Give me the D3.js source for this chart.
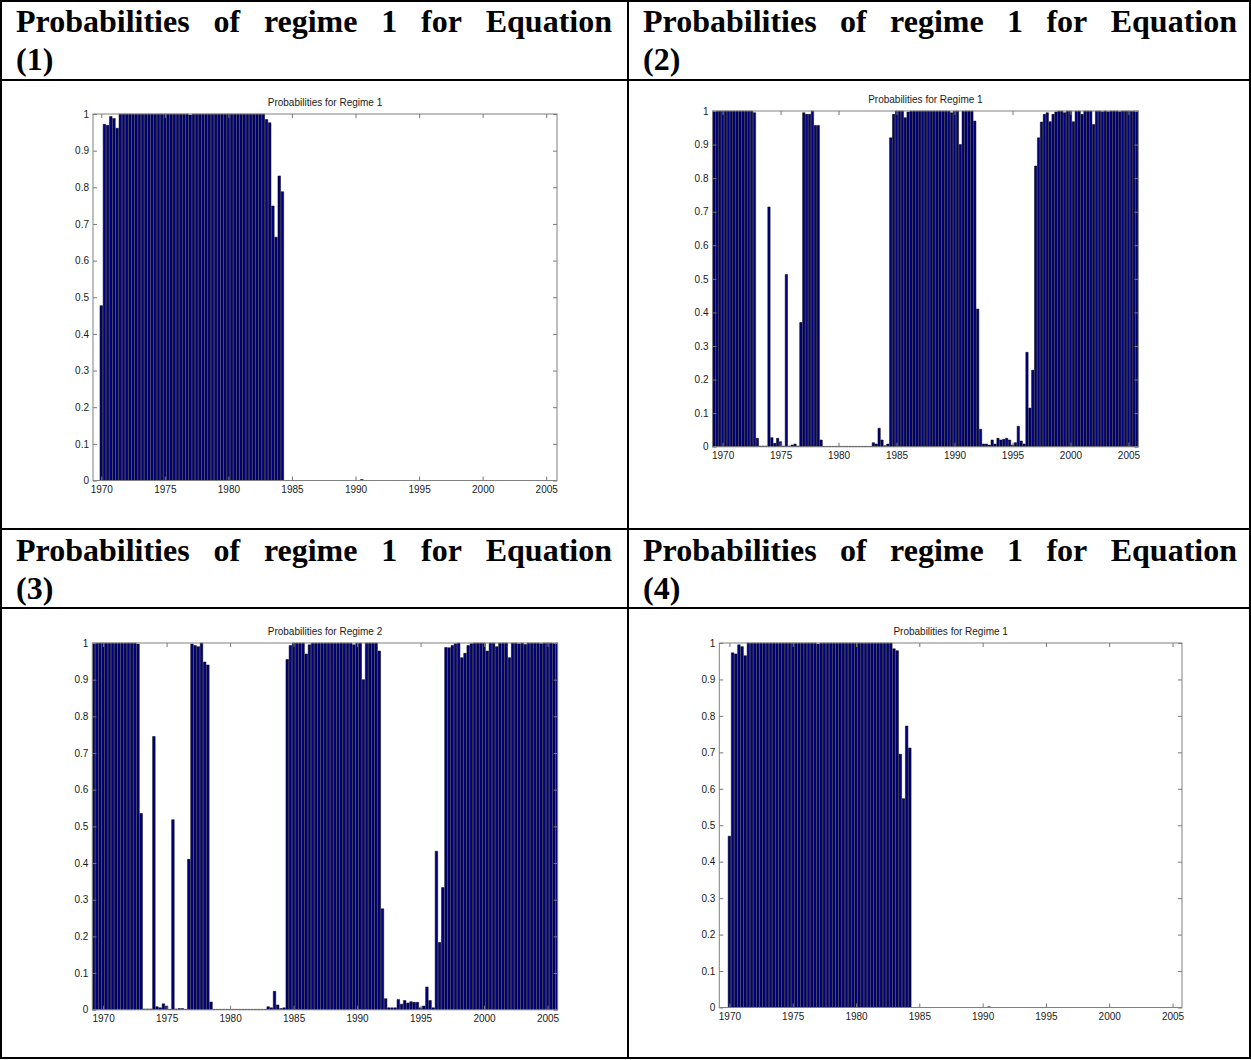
<!DOCTYPE html>
<html>
<head>
<meta charset="utf-8">
<script src="https://cdn.jsdelivr.net/npm/d3@7/dist/d3.min.js"></script>
<style>
  body { margin: 0; background: #fff; }
  svg { display: block; }
</style>
</head>
<body>
<svg id="page" width="1251" height="1060"></svg>
<script>
// quarterly dates, 1969Q2 .. 2005Q4
const startYear = 1969.25
const quarters = d3.range(147).map(i => startYear + i / 4)

const yTicks = [0, 0.1, 0.2, 0.3, 0.4, 0.5, 0.6, 0.7, 0.8, 0.9, 1]
const xTicks = [1970, 1975, 1980, 1985, 1990, 1995, 2000, 2005]

const headings = [
  "Probabilities of regime 1 for Equation (1)",
  "Probabilities of regime 1 for Equation (2)",
  "Probabilities of regime 1 for Equation (3)",
  "Probabilities of regime 1 for Equation (4)"
]
const titles = [
  "Probabilities for Regime 1",
  "Probabilities for Regime 1",
  "Probabilities for Regime 2",
  "Probabilities for Regime 1"
]

// one row per year (1969 has three quarters)
const eq1 = [
  0, 0, 0,
  0.477, 0.972, 0.969, 0.993,
  0.988, 0.961, 1, 1,
  1, 1, 1, 1,
  1, 1, 1, 1,
  1, 1, 1, 1,
  1, 1, 1, 1,
  1, 1, 1, 1,
  0.997, 1, 1, 1,
  1, 1, 1, 1,
  1, 1, 1, 1,
  1, 1, 1, 1,
  1, 1, 1, 1,
  1, 1, 1, 1,
  0.985, 0.976, 0.749, 0.664,
  0.831, 0.788, 0, 0,
  0, 0, 0, 0,
  0, 0, 0, 0,
  0, 0, 0, 0,
  0, 0, 0, 0,
  0, 0, 0, 0,
  0, 0, 0.003, 0,
  0, 0, 0, 0,
  0, 0, 0, 0,
  0, 0, 0, 0,
  0, 0, 0, 0,
  0, 0, 0, 0,
  0, 0, 0, 0,
  0, 0, 0, 0,
  0, 0, 0, 0,
  0, 0, 0, 0,
  0, 0, 0, 0,
  0, 0, 0, 0,
  0, 0, 0, 0,
  0, 0, 0, 0,
  0, 0, 0, 0,
  0, 0, 0, 0
]

const eq2 = [
  1, 1, 1,
  1, 1, 1, 1,
  1, 1, 1, 1,
  1, 1, 1, 0.995,
  0.025, 0.002, 0.002, 0.002,
  0.714, 0.027, 0.01, 0.025,
  0.015, 0.002, 0.513, 0.002,
  0.005, 0.008, 0.002, 0.37,
  0.995, 0.99, 0.99, 1,
  0.957, 0.957, 0.02, 0.001,
  0.001, 0.001, 0.001, 0.001,
  0.001, 0.001, 0.001, 0.001,
  0.001, 0.001, 0.001, 0.001,
  0.001, 0.001, 0.001, 0.001,
  0.012, 0.008, 0.055, 0.02,
  0.003, 0.008, 0.92, 0.99,
  1, 1, 1, 0.98,
  0.997, 1, 1, 1,
  1, 1, 1, 1,
  1, 1, 1, 1,
  1, 1, 1, 0.995,
  1, 1, 0.9, 1,
  1, 1, 1, 0.97,
  0.41, 0.052, 0.008, 0.008,
  0.005, 0.02, 0.008, 0.025,
  0.02, 0.022, 0.025, 0.02,
  0.005, 0.012, 0.061, 0.017,
  0.008, 0.281, 0.115, 0.228,
  0.836, 0.92, 0.967, 0.99,
  0.995, 0.968, 0.99, 0.997,
  1, 1, 0.995, 1,
  1, 0.968, 1, 1,
  0.99, 1, 1, 1,
  0.96, 1, 1, 0.998,
  1, 0.998, 1, 1,
  1, 0.998, 1, 1,
  1, 0.999, 1, 1
]

const eq3 = [
  1, 1, 1,
  1, 1, 1, 1,
  1, 1, 1, 1,
  1, 1, 1, 0.997,
  0.535, 0.002, 0.002, 0.002,
  0.745, 0.008, 0.005, 0.016,
  0.01, 0.001, 0.518, 0.002,
  0.003, 0.003, 0.001, 0.41,
  0.997, 0.993, 0.99, 1,
  0.948, 0.94, 0.021, 0.001,
  0.001, 0.001, 0.001, 0.001,
  0.001, 0.001, 0.001, 0.001,
  0.001, 0.001, 0.001, 0.001,
  0.001, 0.001, 0.001, 0.001,
  0.008, 0.005, 0.05, 0.013,
  0.003, 0.005, 0.955, 0.993,
  1, 1, 1, 1,
  0.97, 0.995, 1, 1,
  1, 1, 1, 1,
  1, 1, 1, 1,
  1, 1, 1, 0.995,
  1, 1, 0.9, 1,
  1, 1, 1, 0.978,
  0.275, 0.03, 0.005, 0.005,
  0.005, 0.028, 0.015, 0.025,
  0.018, 0.022, 0.02, 0.02,
  0.005, 0.01, 0.062, 0.025,
  0.005, 0.432, 0.183, 0.333,
  0.988, 0.987, 0.993, 0.998,
  1, 0.96, 0.972, 0.993,
  0.998, 1, 1, 1,
  1, 0.978, 1, 1,
  0.99, 1, 1, 1,
  0.96, 1, 1, 0.998,
  1, 0.996, 1, 1,
  1, 1, 0.998, 1,
  1, 1, 0.999, 1
]

const eq4 = [
  0, 0, 0,
  0.47, 0.973, 0.97, 0.995,
  0.99, 0.965, 1, 1,
  1, 1, 1, 1,
  1, 1, 1, 1,
  1, 1, 1, 1,
  1, 1, 1, 1,
  1, 1, 1, 1,
  0.997, 1, 1, 1,
  1, 1, 1, 1,
  1, 1, 1, 1,
  1, 1, 1, 1,
  1, 1, 1, 1,
  1, 1, 1, 1,
  0.984, 0.979, 0.695, 0.573,
  0.772, 0.712, 0, 0,
  0, 0, 0, 0,
  0, 0, 0, 0,
  0, 0, 0, 0,
  0, 0, 0, 0,
  0, 0, 0, 0,
  0, 0, 0.002, 0,
  0, 0, 0, 0,
  0, 0, 0, 0,
  0, 0, 0, 0,
  0, 0, 0, 0,
  0, 0, 0, 0,
  0, 0, 0, 0,
  0, 0, 0, 0,
  0, 0, 0, 0,
  0, 0, 0, 0,
  0, 0, 0, 0,
  0, 0, 0, 0,
  0, 0, 0, 0,
  0, 0, 0, 0,
  0, 0, 0, 0,
  0, 0, 0, 0
]

const series = [eq1, eq2, eq3, eq4]

// layout of the four cells
const cells = [
  { left: 16, right: 612, base1: 32, base2: 70 },
  { left: 643, right: 1237, base1: 32, base2: 70 },
  { left: 16, right: 612, base1: 561, base2: 599 },
  { left: 643, right: 1237, base1: 561, base2: 599 }
]
const plots = [
  { x0: 93, x1: 557, y0: 114, y1: 480.5, xlim: [1969.35, 2005.85] },
  { x0: 712.5, x1: 1138.3, y0: 111, y1: 446.7, xlim: [1969.13, 2005.85] },
  { x0: 92.3, x1: 557.7, y0: 643, y1: 1009.7, xlim: [1969.15, 2005.8] },
  { x0: 719.3, x1: 1182, y0: 643, y1: 1007.5, xlim: [1969.2, 2005.75] }
]

const svg = d3.select("#page")

// table grid
const grid = svg.append("g").attr("stroke", "#000").attr("stroke-width", 2).attr("fill", "none")
grid.append("rect").attr("x", 1).attr("y", 1).attr("width", 1249).attr("height", 1057)
grid.append("line").attr("x1", 628).attr("x2", 628).attr("y1", 0).attr("y2", 1059)
;[80, 529, 608].forEach(yy => {
  grid.append("line").attr("x1", 0).attr("x2", 1251).attr("y1", yy).attr("y2", yy)
})

// headings, first line justified across the cell
function justify(g, words, xL, xR, y) {
  const t = words.map(w => g.append("text").attr("y", y).text(w))
  const widths = t.map(s => s.node().getComputedTextLength())
  const gap = (xR - xL - d3.sum(widths)) / (words.length - 1)
  let cx = xL
  t.forEach((s, i) => { s.attr("x", cx); cx += widths[i] + gap })
}

cells.forEach((c, k) => {
  const g = svg.append("g")
    .attr("font-family", "'Liberation Serif', 'Times New Roman', serif")
    .attr("font-weight", "bold")
    .attr("font-size", "32px")
    .attr("fill", "#000")
  const words = headings[k].split(" ")
  const last = words.pop()
  justify(g, words, c.left, c.right, c.base1)
  g.append("text").attr("x", c.left).attr("y", c.base2).text(last)
})

// bar charts
plots.forEach((p, k) => {
  const g = svg.append("g")

  const x = d3.scaleLinear().domain(p.xlim).range([p.x0, p.x1])
  const y = d3.scaleLinear().domain([0, 1]).range([p.y1, p.y0])
  const bw = (x(startYear + 0.25) - x(startYear)) * 0.8

  g.append("clipPath").attr("id", "clip" + k)
    .append("rect")
    .attr("x", p.x0).attr("y", p.y0 - 1)
    .attr("width", p.x1 - p.x0).attr("height", p.y1 - p.y0 + 2)

  g.append("g")
    .attr("clip-path", `url(#clip${k})`)
    .selectAll("path")
    .data(series[k])
    .join("path")
      .attr("d", (d, i) => {
        const xl = x(quarters[i]) - bw / 2
        return `M${xl},${y(0)}V${y(d)}H${xl + bw}V${y(0)}Z`
      })
      .attr("fill", "#000080")
      .attr("stroke", "#000")
      .attr("stroke-width", 0.5)

  const fmt = d3.format("~g")
  const styleAxis = sel => {
    sel.select(".domain").remove()
    sel.selectAll(".tick line").attr("stroke", "#777")
    sel.selectAll(".tick text").attr("fill", "#1a1a1a")
  }

  g.append("g").attr("transform", `translate(${p.x0},0)`)
    .call(d3.axisLeft(y).tickValues(yTicks).tickFormat(fmt).tickSize(-4).tickPadding(4))
    .call(styleAxis)
  g.append("g").attr("transform", `translate(${p.x1},0)`)
    .call(d3.axisRight(y).tickValues(yTicks).tickFormat("").tickSize(-4))
    .call(styleAxis)
  g.append("g").attr("transform", `translate(0,${p.y1})`)
    .call(d3.axisBottom(x).tickValues(xTicks).tickFormat(d3.format("d")).tickSize(-4).tickPadding(5))
    .call(styleAxis)
  g.append("g").attr("transform", `translate(0,${p.y0})`)
    .call(d3.axisTop(x).tickValues(xTicks).tickFormat("").tickSize(-4))
    .call(styleAxis)

  // axes box
  g.append("rect")
    .attr("x", p.x0).attr("y", p.y0)
    .attr("width", p.x1 - p.x0).attr("height", p.y1 - p.y0)
    .attr("fill", "none").attr("stroke", "#808080").attr("stroke-width", 1)

  g.append("text")
    .attr("x", (p.x0 + p.x1) / 2)
    .attr("y", p.y0 - 8)
    .attr("text-anchor", "middle")
    .attr("fill", "#1a1a1a")
    .text(titles[k])

  g.selectAll("text")
    .attr("font-family", "'Liberation Sans', Arial, sans-serif")
    .attr("font-size", "10px")
})
</script>
</body>
</html>
